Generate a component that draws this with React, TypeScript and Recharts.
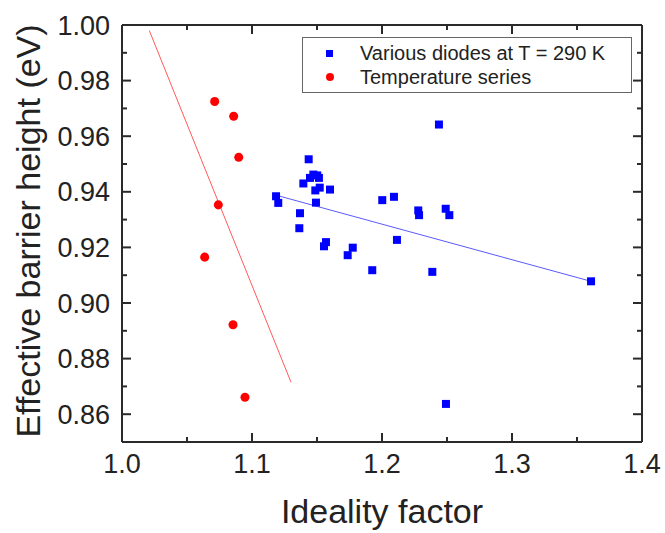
import React from "react";
import { ScatterChart, Scatter, XAxis, YAxis, ReferenceLine } from "recharts";

const FONT = "'Liberation Sans', Arial, sans-serif";
const INK = "#2a2a2a";

// ideality factor / barrier height (eV)
const variousDiodes = [
  { x: 1.2438, y: 0.9642 },
  { x: 1.1436, y: 0.9517 },
  { x: 1.1472, y: 0.9462 },
  { x: 1.1502, y: 0.9459 },
  { x: 1.1446, y: 0.945 },
  { x: 1.1515, y: 0.945 },
  { x: 1.1395, y: 0.943 },
  { x: 1.1487, y: 0.9405 },
  { x: 1.1521, y: 0.9415 },
  { x: 1.16, y: 0.9408 },
  { x: 1.1185, y: 0.9384 },
  { x: 1.1202, y: 0.936 },
  { x: 1.1492, y: 0.9361 },
  { x: 1.1369, y: 0.9323 },
  { x: 1.1364, y: 0.9269 },
  { x: 1.2002, y: 0.937 },
  { x: 1.2092, y: 0.9382 },
  { x: 1.2279, y: 0.9333 },
  { x: 1.2285, y: 0.9316 },
  { x: 1.249, y: 0.9339 },
  { x: 1.2518, y: 0.9316 },
  { x: 1.2115, y: 0.9227 },
  { x: 1.1569, y: 0.9219 },
  { x: 1.1554, y: 0.9204 },
  { x: 1.1775, y: 0.9199 },
  { x: 1.1736, y: 0.9172 },
  { x: 1.1925, y: 0.9118 },
  { x: 1.2387, y: 0.9112 },
  { x: 1.3608, y: 0.9078 },
  { x: 1.2492, y: 0.8637 },
];

const temperatureSeries = [
  { x: 1.0713, y: 0.9725 },
  { x: 1.0859, y: 0.9672 },
  { x: 1.0898, y: 0.9524 },
  { x: 1.0741, y: 0.9353 },
  { x: 1.0636, y: 0.9165 },
  { x: 1.0854, y: 0.8922 },
  { x: 1.0946, y: 0.8661 },
];

// linear fits (end points)
const diodesFit = [
  { x: 1.1215, y: 0.9384 },
  { x: 1.3608, y: 0.9078 },
];
const temperatureFit = [
  { x: 1.021, y: 0.998 },
  { x: 1.13, y: 0.8715 },
];

const xTicks = [1.0, 1.05, 1.1, 1.15, 1.2, 1.25, 1.3, 1.35, 1.4];
const yTicks = [
  0.85, 0.86, 0.87, 0.88, 0.89, 0.9, 0.91, 0.92, 0.93, 0.94, 0.95, 0.96, 0.97,
  0.98, 0.99, 1.0,
];

const legendItems = [
  { name: "Various diodes at T = 290 K", color: "#0000ff", shape: "square" },
  { name: "Temperature series", color: "#ff0000", shape: "circle" },
];

const isMajorX = (v: number) => Math.abs(v * 10 - Math.round(v * 10)) < 1e-6;
const isMajorY = (v: number) => Math.round(v * 100) % 2 === 0;

const BottomTick = ({ x, y, payload }: any) => (
  <g>
    <path d={`M${x},${y}V${y - (isMajorX(payload.value) ? 9 : 5)}`} stroke={INK} strokeWidth={2} fill="none" />
    <text x={x} y={y + 31} textAnchor="middle" fontSize={27} fontFamily={FONT} fill="#222">
      {isMajorX(payload.value) ? payload.value.toFixed(1) : ""}
    </text>
  </g>
);

const TopTick = ({ x, y, payload }: any) => (
  <g>
    <path d={`M${x},${y}V${y + (isMajorX(payload.value) ? 9 : 5)}`} stroke={INK} strokeWidth={2} fill="none" />
  </g>
);

const LeftTick = ({ x, y, payload }: any) => (
  <g>
    <path d={`M${x},${y}H${x + (isMajorY(payload.value) ? 9 : 5)}`} stroke={INK} strokeWidth={2} fill="none" />
    <text x={x - 12} y={y + 9.5} textAnchor="end" fontSize={27} fontFamily={FONT} fill="#222">
      {isMajorY(payload.value) ? payload.value.toFixed(2) : ""}
    </text>
  </g>
);

const RightTick = ({ x, y, payload }: any) => (
  <g>
    <path d={`M${x},${y}H${x - (isMajorY(payload.value) ? 9 : 5)}`} stroke={INK} strokeWidth={2} fill="none" />
  </g>
);

const LegendBox = () => (
  <div
    style={{
      position: "absolute",
      left: 302,
      top: 37,
      width: 330,
      height: 56,
      boxSizing: "border-box",
      border: "1px solid #666",
      background: "#fff",
      fontFamily: FONT,
      fontSize: 20,
      color: "#222",
      paddingTop: 3,
    }}
  >
    {legendItems.map((item) => (
      <div key={item.name} style={{ height: 24, display: "flex", alignItems: "center" }}>
        <div style={{ width: 57, display: "flex", justifyContent: "center", paddingLeft: 2, boxSizing: "border-box" }}>
          <div
            style={{
              width: item.shape === "square" ? 7 : 8,
              height: item.shape === "square" ? 7 : 8,
              borderRadius: item.shape === "circle" ? "50%" : 0,
              background: item.color,
              marginRight: 6,
            }}
          />
        </div>
        <span style={{ whiteSpace: "nowrap" }}>{item.name}</span>
      </div>
    ))}
  </div>
);

const titleStyle: React.CSSProperties = {
  position: "absolute",
  fontFamily: FONT,
  fontSize: 34,
  lineHeight: "34px",
  whiteSpace: "nowrap",
  color: "#222",
};

export default function App() {
  return (
    <div style={{ position: "absolute", left: 0, top: 0, width: 665, height: 533 }}>
      <ScatterChart width={665} height={533} margin={{ top: 24, right: 22, bottom: 0, left: 0 }}>
        <XAxis
          xAxisId="bottom"
          dataKey="x"
          type="number"
          domain={[1.0, 1.4]}
          ticks={xTicks}
          interval={0}
          height={91}
          tickSize={0}
          tickMargin={0}
          tick={<BottomTick />}
          axisLine={{ stroke: INK, strokeWidth: 2 }}
          allowDataOverflow
        />
        <XAxis
          xAxisId="top"
          orientation="top"
          dataKey="x"
          type="number"
          domain={[1.0, 1.4]}
          ticks={xTicks}
          interval={0}
          height={1}
          tickSize={0}
          tickMargin={0}
          tick={<TopTick />}
          axisLine={{ stroke: INK, strokeWidth: 2 }}
          allowDataOverflow
        />
        <YAxis
          yAxisId="left"
          dataKey="y"
          type="number"
          domain={[0.85, 1.0]}
          ticks={yTicks}
          interval={0}
          width={122}
          tickSize={0}
          tickMargin={0}
          tick={<LeftTick />}
          axisLine={{ stroke: INK, strokeWidth: 2 }}
          allowDataOverflow
        />
        <YAxis
          yAxisId="right"
          orientation="right"
          dataKey="y"
          type="number"
          domain={[0.85, 1.0]}
          ticks={yTicks}
          interval={0}
          width={1}
          tickSize={0}
          tickMargin={0}
          tick={<RightTick />}
          axisLine={{ stroke: INK, strokeWidth: 2 }}
          allowDataOverflow
        />
        <ReferenceLine
          xAxisId="bottom"
          yAxisId="left"
          segment={diodesFit}
          stroke="#5a5aff"
          strokeWidth={1}
          ifOverflow="visible"
        />
        <ReferenceLine
          xAxisId="bottom"
          yAxisId="left"
          segment={temperatureFit}
          stroke="#ff5a5a"
          strokeWidth={1}
          ifOverflow="visible"
        />
        <Scatter
          data={variousDiodes}
          xAxisId="bottom"
          yAxisId="left"
          shape="square"
          fill="#0000ff"
          isAnimationActive={false}
        />
        <Scatter
          data={temperatureSeries}
          xAxisId="bottom"
          yAxisId="left"
          shape="circle"
          fill="#ff0000"
          isAnimationActive={false}
        />
        <Scatter
          data={temperatureSeries}
          xAxisId="top"
          yAxisId="right"
          fill="none"
          shape="circle"
          isAnimationActive={false}
        />
      </ScatterChart>
      <LegendBox />
      <div style={{ ...titleStyle, left: 382, top: 494, transform: "translateX(-50%)" }}>Ideality factor</div>
      <div style={{ ...titleStyle, left: 28, top: 231, transform: "translate(-50%, -50%) rotate(-90deg)" }}>
        Effective barrier height (eV)
      </div>
    </div>
  );
}
